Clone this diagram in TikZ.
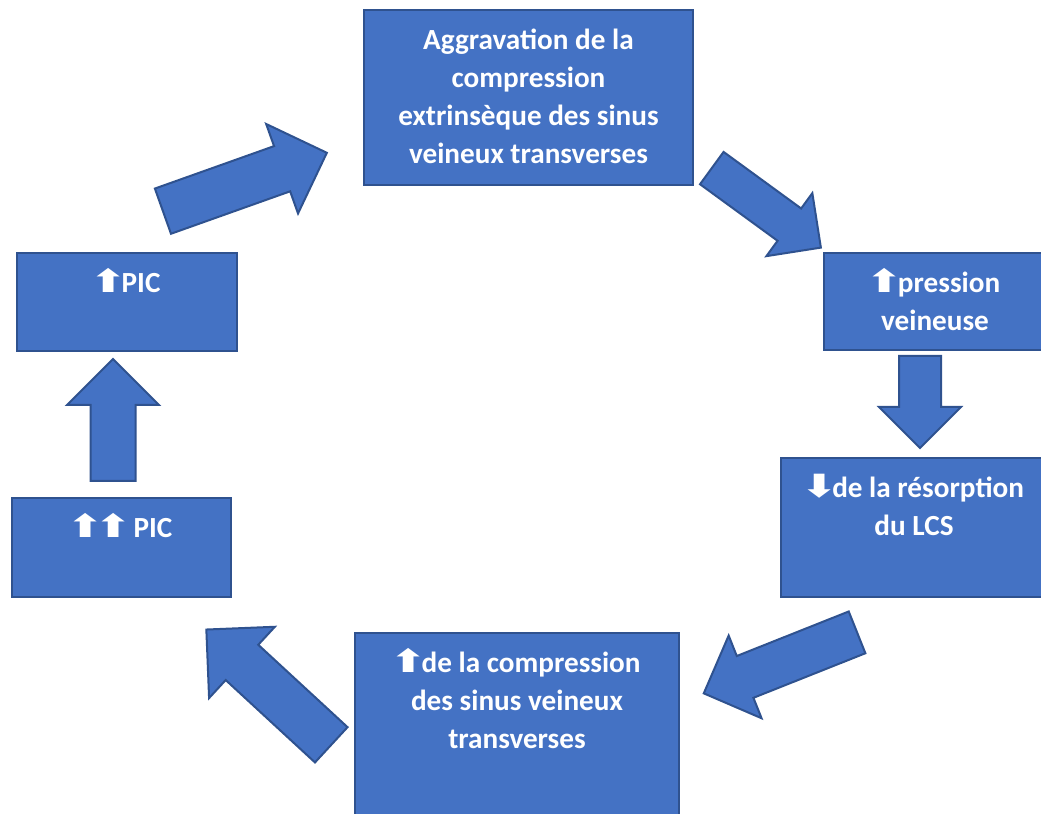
\documentclass[tikz,border=0pt]{standalone}
\usepackage{fontspec}
\setmainfont{Carlito}
\newfontfamily\arrowfont{DejaVu Sans}
\usepackage{tikz}
\usetikzlibrary{shapes.arrows,positioning}
\definecolor{boxblue}{HTML}{4472C4}
\definecolor{boxedge}{HTML}{2F528F}
\newcommand{\hausse}{\kern-1.5pt\scalebox{1.35}[1]{\arrowfont\fontsize{16}{19}\selectfont\char"2B06}\kern-2.5pt}
\newcommand{\baisse}{\kern-1.5pt\scalebox{1.35}[1]{\arrowfont\fontsize{16}{19}\selectfont\char"2B07}\kern-2.5pt}

\begin{document}
\begin{tikzpicture}[
		x=0.5pt,y=0.5pt,
		line join=miter,
		stepbox/.style={draw=boxedge, fill=boxblue, line width=1pt, rectangle, inner sep=0pt},
		boxtext/.style={anchor=north, align=center, text=white, inner sep=0pt, font=\bfseries\fontsize{14.6}{19}\selectfont},
		blockarrow/.style={single arrow, anchor=tail, draw=boxedge, fill=boxblue, line width=1pt, inner xsep=0pt, text height=0pt, text depth=0pt, single arrow tip angle=90}
	]
	\useasboundingbox (0,0) rectangle (1041,814);
	
	% Boxes
	\node[stepbox, minimum width=164.5pt, minimum height=87.5pt] (aggr)   at (528.5,716.5) {};
	\node[stepbox, minimum width=111pt,   minimum height=48.5pt] (pveine) at (935,512.5) {};
	\node[stepbox, minimum width=133pt,   minimum height=69.5pt] (lcs)    at (914,286.5) {};
	\node[stepbox, minimum width=162pt,   minimum height=93.5pt] (compr)  at (517,87.5) {};
	\node[stepbox, minimum width=109.5pt, minimum height=49.5pt] (picdbl) at (121.5,266.5) {};
	\node[stepbox, minimum width=110pt,   minimum height=49pt]   (pic)    at (127,512) {};
	
	% Box texts (first baseline 20pt under the top edge)
	\node[boxtext] (aggrtxt)   at ([yshift=-8pt]aggr.north) {\rule{0pt}{12pt}Aggravation de la\\compression\\extrinsèque des sinus\\veineux transverses};
	\node[boxtext] (pveinetxt) at ([yshift=-8pt]pveine.north) {\rule{0pt}{12pt}\hausse pression\\veineuse};
	\node[boxtext] (lcstxt)    at ([yshift=-8pt]lcs.north) {\rule{0pt}{12pt}\baisse de la résorption\\du LCS};
	\node[boxtext] (comprtxt)  at ([yshift=-8pt]compr.north) {\rule{0pt}{12pt}\hausse de la compression\\des sinus veineux\\transverses};
	\node[boxtext] (picdbltxt) at ([yshift=-8pt]picdbl.north) {\rule{0pt}{12pt}\hausse\hausse{} PIC};
	\node[boxtext] (pictxt)    at ([yshift=-8pt]pic.north) {\rule{0pt}{12pt}\hausse PIC};
	
	% Block arrows (placed by their tails)
	\node[blockarrow, rotate=19.6,  minimum height=87pt,   inner ysep=11.5pt,  single arrow head extend=11.75pt] (arrtop)   at (162,602.5) {};
	\node[blockarrow, rotate=-36.1, minimum height=67.5pt, inner ysep=9.5pt,   single arrow head extend=9.5pt]   (arrright) at (711,646.5) {};
	\node[blockarrow, rotate=-90,   minimum height=46pt,   inner ysep=10pt,    single arrow head extend=10pt]    (arrdown)  at (920,459) {};
	\node[blockarrow, rotate=201.7, minimum height=82.5pt, inner ysep=10.75pt, single arrow head extend=11pt]    (arrlow)   at (858,182) {};
	\node[blockarrow, rotate=137.3, minimum height=85pt,   inner ysep=11.5pt,  single arrow head extend=12.25pt] (arrleft)  at (332,68.5) {};
	\node[blockarrow, rotate=90,    minimum height=61pt,   inner ysep=10.75pt, single arrow head extend=11.75pt] (arrup)    at (113,332) {};
	
\end{tikzpicture}
\end{document}
